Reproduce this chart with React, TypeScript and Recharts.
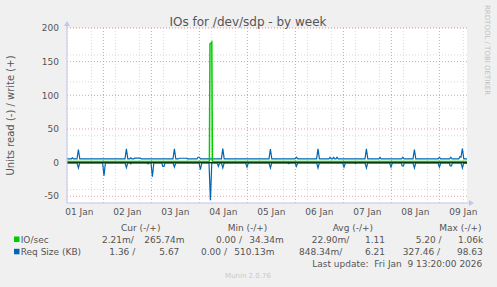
import { CartesianGrid, ComposedChart, Line, ReferenceLine, XAxis, YAxis } from "recharts";

// x values are hours since 01 Jan 00:00
const dayLabels = ["01 Jan", "02 Jan", "03 Jan", "04 Jan", "05 Jan", "06 Jan", "07 Jan", "08 Jan", "09 Jan"];
const dayNoonHours = [12, 36, 60, 84, 108, 132, 156, 180, 204];
const valueTicks = [-50, 0, 50, 100, 150, 200];

const ioWriteHours = [5.8, 77.0, 77.3, 78.2, 78.5, 205.8];
const ioWriteValues = [1.5, 1.5, 176, 179, 1.5, 1.5];
const ioReadHours = [5.8, 205.8];
const ioReadValues = [-0.02, -0.02];

const reqWriteHours = [
  5.8, 8.0, 8.5, 9.0, 10.8, 11.5, 12.2,
  34.8, 35.5, 36.2, 37.2, 37.7, 38.2, 39.2, 39.6, 42.4, 42.9,
  58.8, 59.5, 60.2, 61.5, 62.0, 65.5, 66.0, 70.8, 71.3, 72.0, 72.5,
  83.0, 83.7, 84.4,
  106.8, 107.5, 108.2, 119.8, 120.5, 121.2,
  130.6, 131.3, 132.0, 136.8, 137.3, 137.9, 138.6, 139.1, 139.7, 140.3, 140.8, 141.4,
  154.8, 155.5, 156.2, 161.8, 162.3, 162.8,
  173.1, 173.7, 174.3, 178.8, 179.5, 180.2, 191.4, 192.0, 192.6, 197.1, 197.7, 198.3,
  201.7, 202.3, 202.8, 203.5, 204.2, 205.8,
];
const reqWriteKB = [
  5.7, 5.7, 7, 5.7, 5.7, 19.5, 5.7,
  5.7, 20.3, 5.7, 5.7, 7, 5.7, 5.7, 6.8, 6.8, 5.7,
  5.7, 20.5, 5.7, 5.7, 6.5, 6.5, 5.7, 5.7, 8, 8, 5.7,
  5.7, 20.8, 5.7,
  5.7, 20.2, 5.7, 5.7, 8, 5.7,
  5.7, 20.5, 5.7, 5.7, 8, 5.7, 5.7, 8, 5.7, 5.7, 8, 5.7,
  5.7, 20.5, 5.7, 5.7, 8, 5.7,
  5.7, 8, 5.7, 5.7, 19.3, 5.7, 5.7, 8, 5.7, 5.7, 8, 5.7,
  5.7, 9, 8, 21, 5.7, 5.67,
];

const reqReadHours = [
  5.8, 10.8, 11.5, 12.2, 23.6, 24.3, 25.0, 34.8, 35.5, 36.2, 37.2, 37.7, 38.2,
  45.8, 46.3, 46.8, 47.8, 48.5, 49.2, 53.2, 53.7, 54.3, 54.8, 58.8, 59.5, 60.2,
  71.8, 72.5, 73.2, 76.8, 77.5, 78.2, 80.8, 81.5, 82.2, 83.0, 83.7, 84.4,
  95.1, 95.8, 96.5, 106.8, 107.5, 108.2, 116.2, 116.7, 117.2, 119.8, 120.5, 121.2,
  130.6, 131.3, 132.0, 143.6, 144.3, 145.0, 149.5, 150.0, 150.5, 154.8, 155.5, 156.2,
  167.1, 167.8, 168.5, 172.9, 173.4, 174.0, 174.5, 178.8, 179.5, 180.2,
  191.3, 192.0, 192.7, 196.9, 197.4, 198.0, 198.5, 202.8, 203.5, 204.2, 205.8,
];
const reqReadKB = [
  -0.3, -0.3, -8, -0.3, -0.3, -19.5, -0.3, -0.3, -7.5, -0.3, -0.3, -2, -0.3,
  -0.3, -2, -0.3, -0.3, -21, -0.3, -0.3, -5.5, -5.5, -0.3, -0.3, -6.5, -0.3,
  -0.3, -10.5, -0.3, -0.3, -56, -0.3, -0.3, -5.5, -0.3, -0.3, -8, -0.3,
  -0.3, -6.5, -0.3, -0.3, -8, -0.3, -0.3, -1.5, -0.3, -0.3, -5.5, -0.3,
  -0.3, -8, -0.3, -0.3, -6.5, -0.3, -0.3, -1.5, -0.3, -0.3, -8, -0.3,
  -0.3, -6.5, -0.3, -0.3, -5, -5, -0.3, -0.3, -8, -0.3,
  -0.3, -6.5, -0.3, -0.3, -5, -5, -0.3, -0.3, -8, -0.3, -1.36,
];

const legendHeaders = ["Cur (-/+)", "Min (-/+)", "Avg (-/+)", "Max (-/+)"];
const seriesNames = ["IO/sec", "Req Size (KB)"];
const ioStats = ["2.21m/", "265.74m", "0.00 /", "34.34m", "22.90m/", "1.11", "5.20 /", "1.06k"];
const reqStats = ["1.36 /", "5.67", "0.00 /", "510.13m", "848.34m/", "6.21", "327.46 /", "98.63"];

const GREEN = "#00cc00";
const BLUE = "#0066b3";
const AXIS = "#c4c4ee";
const TEXT = "#555";
const FONT = "'DejaVu Sans', sans-serif";

const toPoints = (hours: number[], values: number[]) => hours.map((h, i) => ({ h, v: values[i] }));

// grid positions: every 6 hours / 10 units, major at midnight / 50 units
const minorHours: number[] = [];
for (let h = 6; h <= 204; h += 6) minorHours.push(h);
const majorHours = [24, 48, 72, 96, 120, 144, 168, 192];
const minorValues: number[] = [];
for (let v = -60; v <= 200; v += 10) minorValues.push(v);

export default function App() {
  const headerX = [121, 227.7, 332.7, 439.3];
  // start x of each legend value; the last column is right-aligned
  const ioX = [102, 144.3, 216, 249.3, 311.7, 365, 415.7];
  const reqX = [109.3, 159.3, 201, 234.3, 299, 365, 402.7];
  const tickStyle = { fontSize: 9, fill: TEXT, fontFamily: FONT };

  return (
    <div style={{ position: "absolute", left: 0, top: 0, width: 497, height: 287, background: "#f0f0f0" }}>
      <ComposedChart width={497} height={287} margin={{ top: 28, right: 30, bottom: 64, left: 27 }}>
        <CartesianGrid
          verticalValues={minorHours}
          horizontalValues={minorValues}
          stroke="#dadada"
          strokeDasharray="1 2"
          fill="#ffffff"
          fillOpacity={1}
        />
        <CartesianGrid
          verticalValues={majorHours}
          horizontalValues={valueTicks}
          stroke="#eaa0a0"
          strokeDasharray="1 2"
        />
        <XAxis
          type="number"
          dataKey="h"
          domain={[5.8, 205.8]}
          allowDataOverflow
          ticks={dayNoonHours}
          tickFormatter={(h: number) => dayLabels[dayNoonHours.indexOf(h)] ?? ""}
          tick={tickStyle}
          tickLine={false}
          tickSize={4}
          tickMargin={2}
          height={20}
          axisLine={{ stroke: AXIS }}
        />
        <YAxis
          type="number"
          domain={[-60, 200]}
          allowDataOverflow
          ticks={valueTicks}
          tick={tickStyle}
          tickLine={false}
          tickSize={4}
          tickMargin={4}
          width={40}
          axisLine={{ stroke: AXIS }}
        />
        <Line data={toPoints(ioReadHours, ioReadValues)} dataKey="v" type="linear" stroke={GREEN} strokeWidth={1.5} dot={false} isAnimationActive={false} />
        <Line data={toPoints(reqReadHours, reqReadKB)} dataKey="v" type="linear" stroke={BLUE} strokeWidth={1.2} dot={false} isAnimationActive={false} />
        <ReferenceLine y={0} stroke="#000" strokeWidth={1} />
        <Line data={toPoints(reqWriteHours, reqWriteKB)} dataKey="v" type="linear" stroke={BLUE} strokeWidth={1.2} dot={false} isAnimationActive={false} />
        <Line data={toPoints(ioWriteHours, ioWriteValues)} dataKey="v" type="linear" stroke={GREEN} strokeWidth={1.5} dot={false} isAnimationActive={false} />
      </ComposedChart>

      <svg width={497} height={287} style={{ position: "absolute", left: 0, top: 0, pointerEvents: "none" }} fontFamily={FONT}>
        {/* axis arrows */}
        <line x1={67} y1={28} x2={67} y2={23} stroke={AXIS} />
        <polygon points="64,26 70,26 67,21" fill={AXIS} />
        <line x1={467} y1={203} x2={471} y2={203} stroke={AXIS} />
        <polygon points="469,200 469,206 474,203" fill={AXIS} />

        <text x={248} y={25.5} textAnchor="middle" fontSize={12} fill={TEXT}>IOs for /dev/sdp - by week</text>
        <text transform="translate(10.5,115.5) rotate(-90)" textAnchor="middle" dy="0.35em" fontSize={10} fill={TEXT}>
          Units read (-) / write (+)
        </text>
        <text transform="translate(487.5,5) rotate(90)" dy="0.35em" fontSize={7} fill="#c0c0c0">RRDTOOL / TOBI OETIKER</text>

        {legendHeaders.map((t, i) => (
          <text key={t} x={headerX[i]} y={230.5} fontSize={9} fill={TEXT}>{t}</text>
        ))}
        <rect x={14} y={236.5} width={5.5} height={5.5} fill={GREEN} />
        <text x={20.7} y={242.7} fontSize={9} fill={TEXT}>{seriesNames[0]}</text>
        {ioStats.map((t, i) =>
          i < 7 ? (
            <text key={i} x={ioX[i]} y={242.7} fontSize={9} fill={TEXT}>{t}</text>
          ) : (
            <text key={i} x={483.3} y={242.7} textAnchor="end" fontSize={9} fill={TEXT}>{t}</text>
          )
        )}
        <rect x={14} y={248.8} width={5.5} height={5.5} fill={BLUE} />
        <text x={20.7} y={255} fontSize={9} fill={TEXT}>{seriesNames[1]}</text>
        {reqStats.map((t, i) =>
          i < 7 ? (
            <text key={i} x={reqX[i]} y={255} fontSize={9} fill={TEXT}>{t}</text>
          ) : (
            <text key={i} x={482.7} y={255} textAnchor="end" fontSize={9} fill={TEXT}>{t}</text>
          )
        )}
        <text x={482.3} y={266.5} textAnchor="end" fontSize={9} fill={TEXT} style={{ whiteSpace: "pre" }}>
          Last update:  Fri Jan  9 13:20:00 2026
        </text>
        <text x={248} y={277.5} textAnchor="middle" fontSize={7} fill="#c8c8c8">Munin 2.0.76</text>
      </svg>
    </div>
  );
}
